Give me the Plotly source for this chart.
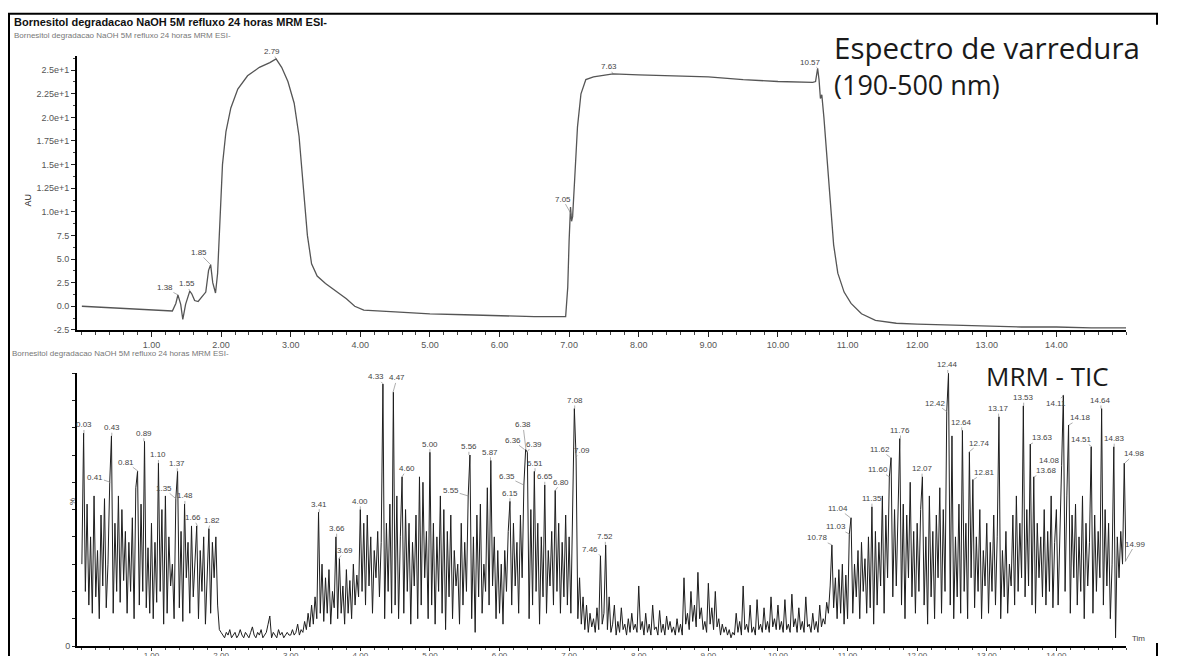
import plotly.graph_objects as go

W, H = 1178, 656            # target picture size (design coordinates)
HL = 672                     # layout height (the page photo maps 672 page px onto 656)
K = HL / H
L, R, T, B = 77, 52, 55, 15  # margins in design px

HEADER = "Bornesitol degradacao NaOH 5M refluxo 24 horas MRM ESI-"

# ---------------- UV scan (top panel) ----------------
UV_TIME = [0.00, 0.50, 1.00, 1.30, 1.35, 1.38, 1.42, 1.45, 1.49, 1.55, 1.58, 1.62,
           1.67, 1.73, 1.78, 1.82, 1.85, 1.88, 1.92, 1.95, 1.98, 2.02, 2.07, 2.14,
           2.24, 2.38, 2.55, 2.70, 2.79, 2.87, 2.96, 3.05, 3.12, 3.18, 3.24, 3.30,
           3.38, 3.50, 3.65, 3.80, 3.92, 4.05, 4.50, 5.00, 5.50, 6.00, 6.50, 6.95,
           6.98, 7.00, 7.02, 7.035, 7.05, 7.08, 7.12, 7.17, 7.24, 7.35, 7.50, 7.63,
           8.00, 8.50, 9.00, 9.50, 10.00, 10.50, 10.54, 10.57, 10.59, 10.61, 10.63,
           10.66, 10.70, 10.75, 10.80, 10.86, 10.95, 11.05, 11.20, 11.40, 11.70,
           12.00, 12.50, 13.00, 13.50, 14.00, 14.50, 15.00]
UV_ABS = [0.0, -0.2, -0.4, -0.5, 0.3, 1.2, 0.2, -1.4, 0.2, 1.6, 1.3, 0.6,
          0.5, 1.0, 1.5, 3.8, 4.4, 2.5, 1.4, 3.5, 9.0, 15.0, 18.5, 21.0,
          23.0, 24.4, 25.3, 25.8, 26.2, 25.3, 23.8, 21.5, 18.0, 13.0, 7.5, 4.5,
          3.2, 2.4, 1.6, 0.8, 0.0, -0.4, -0.6, -0.8, -0.9, -1.0, -1.1, -1.1,
          2.0, 7.0, 10.5, 9.0, 9.5, 13.5, 19.0, 22.5, 24.0, 24.3, 24.5, 24.6,
          24.5, 24.4, 24.3, 24.0, 23.8, 23.7, 23.8, 25.2, 24.0, 22.0, 22.4,
          20.0, 16.0, 11.0, 6.5, 3.5, 1.5, 0.3, -0.8, -1.5, -1.8,
          -1.9, -2.0, -2.1, -2.2, -2.2, -2.3, -2.3]
UV_PEAK_T = [1.38, 1.55, 1.85, 2.79, 7.05, 7.63, 10.57]
UV_PEAK_V = [1.2, 1.6, 4.4, 26.2, 9.5, 24.6, 25.2]
UV_PEAK_LBL = ["1.38", "1.55", "1.85", "2.79", "7.05", "7.63", "10.57"]

# ---------------- MRM TIC (bottom panel) ----------------
TIC_T0 = 0.0
TIC_DT = 0.025
TIC_PCT = [
    # 0.00 - 0.975
    30, 78, 20, 52, 15, 40, 12, 55, 18, 35, 10, 48, 22, 54, 14, 30, 60, 77, 12, 45,
    20, 55, 16, 50, 24, 42, 12, 38, 20, 47, 10, 58, 64, 15, 52, 20, 75, 14, 36, 12,
    # 1.00 - 1.975
    45, 10, 38, 16, 67, 20, 50, 8, 55, 12, 40, 22, 30, 10, 54, 64, 14, 42, 9, 52,
    25, 38, 12, 44, 18, 30, 44, 10, 35, 20, 40, 8, 30, 43, 12, 38, 25, 40, 15, 6,
    # 2.00 - 2.975
    5, 4, 3, 5, 4, 6, 3, 4, 5, 3, 4, 6, 4, 3, 5, 4, 3, 5, 7, 4,
    3, 5, 4, 6, 3, 4, 5, 8, 11, 3, 5, 4, 3, 6, 4, 5, 3, 4, 5, 4,
    # 3.00 - 3.975
    4, 6, 4, 5, 8, 4, 6, 5, 9, 6, 12, 7, 15, 8, 18, 10, 49, 12, 30, 9,
    25, 12, 28, 8, 20, 14, 40, 10, 32, 12, 22, 8, 28, 12, 24, 10, 30, 15, 26, 18,
    # 4.00 - 4.975
    50, 20, 45, 15, 48, 22, 40, 12, 35, 25, 42, 18, 38, 96, 10, 45, 20, 52, 12, 93,
    15, 55, 10, 40, 62, 12, 50, 20, 45, 8, 38, 22, 48, 10, 62, 15, 60, 25, 42, 10,
    # 5.00 - 5.975
    71, 15, 45, 8, 40, 20, 55, 12, 50, 6, 42, 18, 48, 10, 35, 22, 30, 8, 45, 15,
    38, 20, 55, 70, 10, 40, 5, 48, 18, 52, 12, 30, 20, 58, 15, 68, 22, 40, 10, 35,
    # 6.00 - 6.975
    12, 30, 8, 35, 20, 42, 53, 15, 45, 22, 38, 12, 48, 25, 59, 72, 71, 10, 50, 15,
    64, 20, 45, 8, 40, 18, 59, 12, 35, 22, 42, 15, 57, 20, 45, 12, 38, 18, 48, 15,
    # 7.00 - 7.975
    40, 12, 50, 87, 69, 10, 25, 8, 18, 6, 15, 5, 12, 7, 10, 5, 14, 6, 33, 8,
    12, 37, 6, 18, 5, 8, 15, 4, 9, 5, 14, 6, 8, 4, 10, 5, 12, 6, 8, 5,
    # 8.00 - 8.975
    22, 6, 9, 4, 12, 5, 8, 4, 15, 6, 7, 4, 13, 5, 8, 4, 11, 6, 9, 5,
    7, 4, 10, 5, 8, 4, 25, 8, 12, 6, 20, 9, 15, 7, 27, 10, 14, 6, 9, 5,
    # 9.00 - 9.975
    23, 8, 14, 6, 20, 7, 10, 4, 8, 5, 7, 4, 6, 3, 5, 4, 12, 5, 9, 4,
    22, 6, 8, 5, 15, 5, 7, 4, 17, 6, 8, 5, 14, 6, 9, 5, 18, 7, 10, 6,
    # 10.00 - 10.975
    15, 6, 9, 5, 17, 6, 8, 5, 19, 7, 10, 5, 14, 6, 9, 5, 18, 7, 8, 5,
    12, 6, 9, 5, 15, 7, 10, 8, 16, 12, 22, 37, 14, 25, 10, 28, 12, 30, 8, 26,
    # 11.00 - 11.975
    10, 41, 47, 12, 30, 18, 35, 10, 38, 20, 32, 12, 40, 14, 51, 8, 42, 15, 38, 22,
    55, 12, 48, 25, 62, 69, 18, 50, 22, 45, 76, 15, 52, 10, 48, 25, 60, 18, 42, 12,
    # 12.00 - 12.975
    45, 20, 50, 62, 15, 40, 8, 55, 18, 42, 10, 48, 25, 58, 12, 50, 20, 86, 100, 15,
    77, 10, 40, 18, 52, 12, 79, 20, 45, 10, 71, 25, 61, 14, 40, 20, 50, 10, 35, 22,
    # 13.00 - 13.975
    45, 12, 38, 20, 48, 15, 40, 84, 10, 35, 18, 42, 12, 30, 22, 48, 15, 55, 20, 45,
    25, 88, 18, 50, 22, 74, 15, 62, 12, 45, 25, 40, 18, 50, 15, 42, 20, 55, 14, 38,
    # 14.00 - 15.00
    50, 15, 45, 66, 92, 20, 55, 81, 12, 48, 25, 52, 15, 40, 20, 55, 10, 45, 22, 38,
    73, 12, 48, 20, 42, 25, 87, 15, 50, 22, 45, 10, 30, 73, 3, 40, 25, 42, 30, 67,
    31,
]
TIC_PEAK_T = [0.03, 0.41, 0.43, 0.81, 0.89, 1.10, 1.35, 1.37, 1.48, 1.66, 1.82,
              3.41, 3.66, 3.69, 4.00, 4.33, 4.47, 4.60, 5.00, 5.55, 5.56, 5.87,
              6.15, 6.35, 6.36, 6.38, 6.39, 6.51, 6.65, 6.80, 7.08, 7.09, 7.46, 7.52,
              10.78, 11.03, 11.04, 11.35, 11.60, 11.62, 11.76, 12.07, 12.42, 12.44,
              12.64, 12.74, 12.81, 13.17, 13.53, 13.63, 13.68, 14.08, 14.11, 14.18,
              14.51, 14.64, 14.83, 14.98, 14.99]
TIC_PEAK_V = [78, 60, 77, 64, 75, 67, 54, 64, 52, 44, 43,
              49, 40, 32, 50, 96, 93, 62, 71, 55, 70, 68,
              53, 59, 72, 72, 71, 64, 59, 57, 87, 69, 33, 37,
              37, 41, 47, 51, 62, 69, 76, 62, 86, 100,
              79, 71, 61, 84, 88, 74, 62, 66, 92, 81,
              73, 87, 73, 67, 31]
TIC_PEAK_LBL = ["0.03", "0.41", "0.43", "0.81", "0.89", "1.10", "1.35", "1.37", "1.48", "1.66", "1.82",
                "3.41", "3.66", "3.69", "4.00", "4.33", "4.47", "4.60", "5.00", "5.55", "5.56", "5.87",
                "6.15", "6.35", "6.36", "6.38", "6.39", "6.51", "6.65", "6.80", "7.08", "7.09", "7.46", "7.52",
                "10.78", "11.03", "11.04", "11.35", "11.60", "11.62", "11.76", "12.07", "12.42", "12.44",
                "12.64", "12.74", "12.81", "13.17", "13.53", "13.63", "13.68", "14.08", "14.11", "14.18",
                "14.51", "14.64", "14.83", "14.98", "14.99"]

X_TICKS = [1, 2, 3, 4, 5, 6, 7, 8, 9, 10, 11, 12, 13, 14]
X_TICK_TEXT = ["1.00", "2.00", "3.00", "4.00", "5.00", "6.00", "7.00", "8.00",
               "9.00", "10.00", "11.00", "12.00", "13.00", "14.00"]
UV_Y_TICKS = [-2.5, 0, 2.5, 5, 7.5, 10, 12.5, 15, 17.5, 20, 22.5, 25]
UV_Y_TEXT = ["-2.5", "0.0", "2.5", "5.0", "7.5", "1.0e+1", "1.25e+1", "1.5e+1",
             "1.75e+1", "2.0e+1", "2.25e+1", "2.5e+1"]
TIC_Y_TICKS = [0, 10, 20, 30, 40, 50, 60, 70, 80, 90, 100]
TIC_Y_TEXT = ["0", "", "", "", "", "", "", "", "", "", ""]

# ---------------- label placement (pixel offsets, style only) ----------------
DEFAULT_OFF = (0, -8)
UV_OFF = {"1.38": (-13, -7), "1.55": (-3, -7), "1.85": (-12, -12), "2.79": (-4, -7),
          "7.05": (-10, -17), "7.63": (-4, -7), "10.57": (-7, -6)}
TIC_OFF = {"0.41": (-15, -5), "0.81": (-12, -9), "1.35": (-12, -10), "1.66": (-4, -8),
           "1.82": (3, -8), "3.69": (6, -8),
           "4.33": (-7, -7), "4.47": (4, -14), "4.60": (5, -8), "5.55": (-17, -5),
           "6.35": (-17, -8), "6.36": (-12, -9), "6.38": (-3, -24), "6.39": (7, -8),
           "6.80": (6, -8), "7.09": (7, -7), "7.46": (-11, -6), "10.78": (-15, -7),
           "11.03": (-14, -7), "11.04": (-12, -9), "11.60": (-11, -7), "11.62": (-11, -8),
           "12.42": (-11, -8), "12.74": (11, -9), "12.81": (11, -7), "13.63": (12, -6),
           "13.68": (12, -6), "14.08": (-12, -5), "14.11": (-8, 8), "14.18": (12, -7),
           "14.51": (-10, -7), "14.98": (10, -9), "14.99": (10, -17)}

tic_time = [TIC_T0 + i * TIC_DT for i in range(len(TIC_PCT))]

AX_FONT = dict(family="Liberation Sans, Arial", size=9, color="#555")
AX_FONT_BOT = dict(family="Liberation Sans, Arial", size=8, color="#555")
LBL_FONT = dict(family="Liberation Sans, Arial", size=8, color="#444")
BIG = "Open Sans, Lato"


def px(x):
    return (x - L) / (W - L - R)


def py(y):
    return (H - B - y) / (H - T - B)


fig = go.Figure()
fig.add_trace(go.Scatter(x=UV_TIME, y=UV_ABS, mode="lines", xaxis="x", yaxis="y",
                         line=dict(color="#555", width=1.3), hoverinfo="skip"))
fig.add_trace(go.Scatter(x=tic_time, y=TIC_PCT, mode="lines", xaxis="x2", yaxis="y2",
                         line=dict(color="#1e1e1e", width=1.0), hoverinfo="skip"))

annotations = []
for t, v, lbl in zip(UV_PEAK_T, UV_PEAK_V, UV_PEAK_LBL):
    dx, dy = UV_OFF.get(lbl, DEFAULT_OFF)
    annotations.append(dict(x=t, y=v, xref="x", yref="y", text=lbl, showarrow=True,
                            arrowhead=0, arrowwidth=0.6, arrowcolor="#777", ax=dx, ay=dy * K,
                            standoff=0, font=LBL_FONT, borderpad=0))
for t, v, lbl in zip(TIC_PEAK_T, TIC_PEAK_V, TIC_PEAK_LBL):
    dx, dy = TIC_OFF.get(lbl, DEFAULT_OFF)
    annotations.append(dict(x=t, y=v, xref="x2", yref="y2", text=lbl, showarrow=True,
                            arrowhead=0, arrowwidth=0.6, arrowcolor="#777", ax=dx, ay=dy * K,
                            standoff=0, font=LBL_FONT, borderpad=0))

annotations += [
    dict(x=px(12), y=py(21), xref="paper", yref="paper", text="<b>" + HEADER + "</b>",
         showarrow=False, xanchor="left", yanchor="middle",
         font=dict(family="Liberation Sans, Arial", size=11, color="#111")),
    dict(x=px(12), y=py(35), xref="paper", yref="paper", text=HEADER,
         showarrow=False, xanchor="left", yanchor="middle",
         font=dict(family="Liberation Sans, Arial", size=8, color="#777")),
    dict(x=px(10), y=py(350), xref="paper", yref="paper", text=HEADER,
         showarrow=False, xanchor="left", yanchor="middle",
         font=dict(family="Liberation Sans, Arial", size=8, color="#777")),
    dict(x=px(832), y=py(47), xref="paper", yref="paper", text="Espectro de varredura",
         showarrow=False, xanchor="left", yanchor="middle",
         font=dict(family=BIG, size=29.5, color="#1a1a1a")),
    dict(x=px(832), y=py(83), xref="paper", yref="paper", text="(190-500 nm)",
         showarrow=False, xanchor="left", yanchor="middle",
         font=dict(family=BIG, size=27, color="#1a1a1a")),
    dict(x=px(984), y=py(373), xref="paper", yref="paper", text="MRM - TIC",
         showarrow=False, xanchor="left", yanchor="middle",
         font=dict(family=BIG, size=26, color="#1a1a1a")),
    dict(x=px(21), y=py(190), xref="paper", yref="paper", text="AU", textangle=-90,
         showarrow=False, font=dict(family="Liberation Sans, Arial", size=9, color="#222")),
    dict(x=px(66), y=py(503), xref="paper", yref="paper", text="%", textangle=-90,
         showarrow=False, font=dict(family="Liberation Sans, Arial", size=8, color="#333")),
    dict(x=px(1130), y=py(640), xref="paper", yref="paper", text="Tim", xanchor="left",
         showarrow=False, font=dict(family="Liberation Sans, Arial", size=8, color="#444")),
]

frame = dict(type="line", xref="paper", yref="paper", line=dict(color="black", width=2))
shapes = [
    dict(frame, x0=px(8), x1=px(1158), y0=py(13), y1=py(13)),
    dict(frame, x0=px(9), x1=px(9), y0=py(13), y1=py(656)),
    dict(frame, x0=px(1157), x1=px(1157), y0=py(13), y1=py(24)),
    dict(frame, x0=px(1157), x1=px(1157), y0=py(638), y1=py(656)),
]

xcommon = dict(range=[-0.07, 15.0], showline=True, linecolor="black", linewidth=2,
               ticks="outside", ticklen=5, tickwidth=1, tickcolor="#222",
               tickvals=X_TICKS, ticktext=X_TICK_TEXT, tickfont=AX_FONT,
               minor=dict(ticks="outside", dtick=0.2, tick0=0, ticklen=3, tickcolor="#444"),
               showgrid=False, zeroline=False, fixedrange=True)

fig.update_layout(
    width=W, height=HL, autosize=False,
    margin=dict(l=L, r=R, t=T * K, b=B * K),
    paper_bgcolor="white", plot_bgcolor="white", showlegend=False,
    xaxis=dict(xcommon, anchor="y", domain=[0, 1]),
    yaxis=dict(domain=[py(327), 1], range=[-2.5, 26.5], anchor="x",
               showline=True, linecolor="black", linewidth=2, ticks="outside",
               ticklen=4, tickwidth=1, tickcolor="#222", tickvals=UV_Y_TICKS,
               ticktext=UV_Y_TEXT, tickfont=AX_FONT,
               minor=dict(ticks="outside", dtick=1.25, tick0=0, ticklen=2, tickcolor="#444"),
               showgrid=False, zeroline=False),
    xaxis2=dict(xcommon, anchor="y2", domain=[0, 1], ticklen=3, tickfont=AX_FONT_BOT,
                ticklabelstandoff=-3,
                minor=dict(ticks="outside", dtick=0.2, tick0=0, ticklen=2, tickcolor="#444")),
    yaxis2=dict(domain=[0, py(370)], range=[0, 100], anchor="x2",
                showline=True, linecolor="black", linewidth=2, ticks="outside",
                ticklen=3, tickwidth=1, tickcolor="#222", tickvals=TIC_Y_TICKS,
                ticktext=TIC_Y_TEXT, tickfont=AX_FONT, showgrid=False, zeroline=False),
    annotations=annotations,
    shapes=shapes,
)

fig.write_html("out.html", include_plotlyjs=True,
               config={"displayModeBar": False, "responsive": False},
               post_script="document.body.style.margin='0px';document.body.style.overflow='hidden';")
